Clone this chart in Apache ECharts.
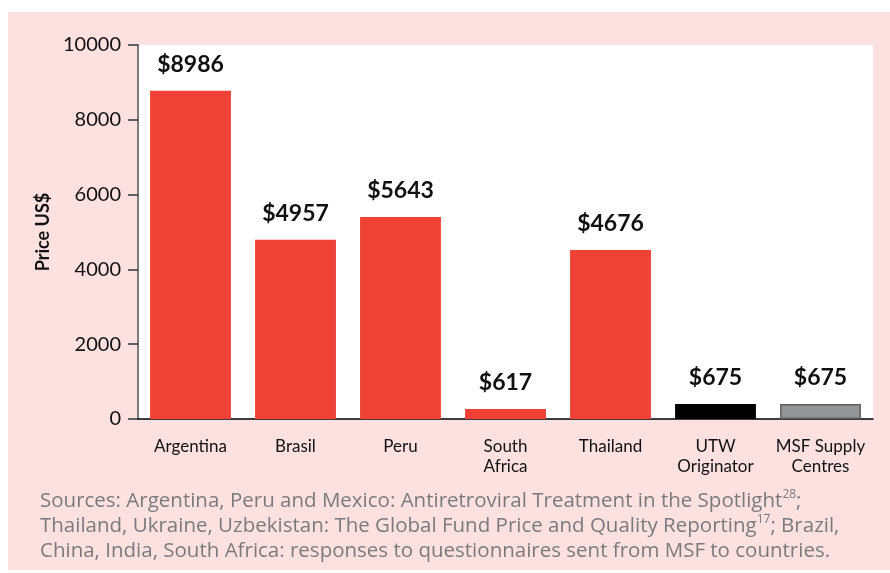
<!DOCTYPE html>
<html>
<head>
<meta charset="utf-8">
<script src="https://cdn.jsdelivr.net/npm/echarts@6/dist/echarts.min.js"></script>
<style>
  html, body { margin: 0; padding: 0; background: #fff; }
  #chart { width: 890px; height: 573px; }
</style>
</head>
<body>
<div id="chart"></div>
<script>
// data
const categories = ["Argentina", "Brasil", "Peru", "South\nAfrica", "Thailand", "UTW\nOriginator", "MSF Supply\nCentres"];
// bar heights as drawn (they don't match the printed labels exactly)
const barHeights = [8780, 4790, 5400, 270, 4520, 400, 400];
const priceLabels = ["$8986", "$4957", "$5643", "$617", "$4676", "$675", "$675"];
const barColors = ["#ef4136", "#ef4136", "#ef4136", "#ef4136", "#ef4136", "#000000", "#939598"];
const yTicks = [0, 2000, 4000, 6000, 8000, 10000];

const chart = echarts.init(document.getElementById("chart"), null, { renderer: "canvas" });

chart.setOption({
  animation: false,
  backgroundColor: "#ffffff",
  textStyle: { fontFamily: "Lato" },
  graphic: [
    {
      type: "rect",
      z: -10,
      silent: true,
      shape: { x: 8, y: 12, width: 882, height: 558 },
      style: { fill: "#fde1e1" },
    },
    {
      type: "text",
      left: 40,
      top: 489,
      silent: true,
      style: {
        text:
          "Sources: Argentina, Peru and Mexico: Antiretroviral Treatment in the Spotlight{sup|28};\n" +
          "Thailand, Ukraine, Uzbekistan: The Global Fund Price and Quality Reporting{sup|17}; Brazil,\n" +
          "China, India, South Africa: responses to questionnaires sent from MSF to countries.",
        fill: "#7a7a7a",
        font: "20.5px 'Open Sans'",
        lineHeight: 25,
        rich: {
          sup: { fontSize: 12, fontFamily: "Open Sans", fill: "#7a7a7a", verticalAlign: "top", lineHeight: 25 },
        },
      },
    },
  ],
  grid: {
    left: 138,
    right: 17,
    top: 45,
    bottom: 154,
    show: true,
    backgroundColor: "#ffffff",
    borderWidth: 0,
  },
  xAxis: {
    type: "category",
    data: categories,
    axisLine: { lineStyle: { color: "#000", width: 1.5 } },
    axisTick: { length: 10, lineStyle: { color: "#555", width: 1.5 } },
    axisLabel: { color: "#111", fontSize: 17, fontFamily: "Lato", lineHeight: 20, margin: 18, interval: 0 },
  },
  yAxis: {
    type: "value",
    min: yTicks[0],
    max: yTicks[yTicks.length - 1],
    interval: 2000,
    name: "Price US$",
    nameLocation: "middle",
    nameGap: 82,
    nameTextStyle: { fontSize: 18, fontWeight: "bold", color: "#111", fontFamily: "Lato" },
    axisLine: { show: true, lineStyle: { color: "#7a7a7a", width: 2 } },
    axisTick: { show: true, length: 10, lineStyle: { color: "#333", width: 1.5 } },
    axisLabel: { color: "#111", fontSize: 20, fontFamily: "Lato", margin: 17, formatter: (v) => String(v) },
    splitLine: { show: false },
  },
  series: [
    {
      type: "bar",
      barWidth: "77%",
      data: barHeights.map((v, i) => ({
        value: v,
        itemStyle: {
          color: barColors[i],
          borderColor: i === 6 ? "#5f6062" : barColors[i],
          borderWidth: i === 6 ? 1.5 : 0,
        },
      })),
      label: {
        show: true,
        position: "top",
        distance: 15,
        formatter: (p) => priceLabels[p.dataIndex],
        color: "#111",
        fontSize: 23,
        fontWeight: "bold",
        fontFamily: "Lato",
      },
    },
  ],
});
</script>
</body>
</html>
